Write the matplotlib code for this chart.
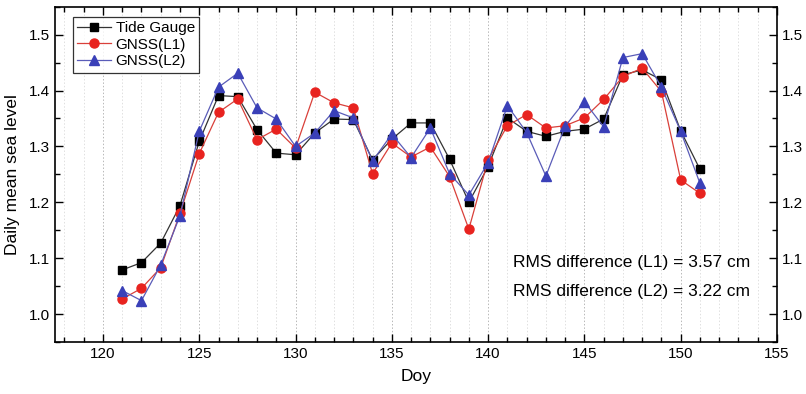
import matplotlib
matplotlib.use("Agg")
import matplotlib.pyplot as plt
from matplotlib.ticker import MultipleLocator

plt.rcParams['font.family'] = ['Liberation Sans', 'DejaVu Sans']

days = list(range(121, 152))
tide_gauge = [1.079, 1.092, 1.127, 1.194, 1.309, 1.391, 1.389, 1.330, 1.288, 1.285,
              1.324, 1.349, 1.348, 1.276, 1.313, 1.342, 1.342, 1.277, 1.200, 1.264,
              1.351, 1.327, 1.318, 1.327, 1.331, 1.349, 1.428, 1.437, 1.419, 1.328, 1.259]
gnss_l1 = [1.027, 1.046, 1.083, 1.180, 1.287, 1.361, 1.385, 1.312, 1.331, 1.297,
           1.397, 1.378, 1.369, 1.251, 1.306, 1.281, 1.299, 1.246, 1.152, 1.276,
           1.337, 1.357, 1.333, 1.337, 1.351, 1.384, 1.425, 1.440, 1.398, 1.240, 1.216]
gnss_l2 = [1.042, 1.024, 1.088, 1.176, 1.327, 1.406, 1.431, 1.369, 1.349, 1.300,
           1.324, 1.364, 1.351, 1.274, 1.322, 1.280, 1.333, 1.251, 1.213, 1.271,
           1.373, 1.325, 1.247, 1.336, 1.380, 1.335, 1.459, 1.466, 1.406, 1.327, 1.234]
series_labels = ['Tide Gauge', 'GNSS(L1)', 'GNSS(L2)']
rms_texts = ['RMS difference (L1) = 3.57 cm', 'RMS difference (L2) = 3.22 cm']

fig = plt.figure(figsize=(8.06, 3.94), dpi=100)
ax = fig.add_axes([0.068, 0.132, 0.896, 0.851])

ax.set_xlim(117.5, 155)
ax.set_ylim(0.95, 1.55)

# vertical grid
for d in range(118, 155):
    if d % 5 == 0:
        ax.axvline(d, color='#b8b8b8', lw=0.7, ls=(0, (1.5, 2)), zorder=0)
    else:
        ax.axvline(d, color='#e0e0e0', lw=0.7, ls=(0, (1.5, 2)), zorder=0)

ax.plot(days, tide_gauge, color='#333333', lw=0.9, marker='s', ms=6,
        mfc='black', mec='black', label=series_labels[0], zorder=3)
ax.plot(days, gnss_l1, color='#d9403a', lw=0.9, marker='o', ms=6.5,
        mfc='#e8231f', mec='#e8231f', label=series_labels[1], zorder=4)
ax.plot(days, gnss_l2, color='#5a5cb8', lw=0.9, marker='^', ms=7.5,
        mfc='#3a40b8', mec='#3a40b8', label=series_labels[2], zorder=5)

ax.xaxis.set_major_locator(MultipleLocator(5))
ax.xaxis.set_minor_locator(MultipleLocator(1))
ax.yaxis.set_major_locator(MultipleLocator(0.1))
ax.yaxis.set_minor_locator(MultipleLocator(0.05))
ax.yaxis.set_major_formatter(plt.FormatStrFormatter('%.1f'))

ax.tick_params(which='both', direction='in', top=True, right=True,
               labelright=True, labelleft=True, labelsize=11, width=1.0)
ax.tick_params(which='major', length=6)
ax.tick_params(which='minor', length=3.5)
for s in ax.spines.values():
    s.set_linewidth(1.2)

ax.set_xlabel('Doy', fontsize=12.5, labelpad=6)
ax.set_ylabel('Daily mean sea level', fontsize=12.5, labelpad=6)

leg = ax.legend(loc='upper left', bbox_to_anchor=(0.025, 0.97), fontsize=11,
                frameon=True, fancybox=False, edgecolor='black',
                handlelength=2.2, borderpad=0.3, labelspacing=0.15,
                handletextpad=0.3, borderaxespad=0.0)
leg.get_frame().set_linewidth(0.9)

ax.text(0.6345, 0.236, rms_texts[0], transform=ax.transAxes, fontsize=12.5,
        va='center', ha='left')
ax.text(0.6345, 0.15, rms_texts[1], transform=ax.transAxes, fontsize=12.5,
        va='center', ha='left')

fig.savefig('out.png', dpi=100)
